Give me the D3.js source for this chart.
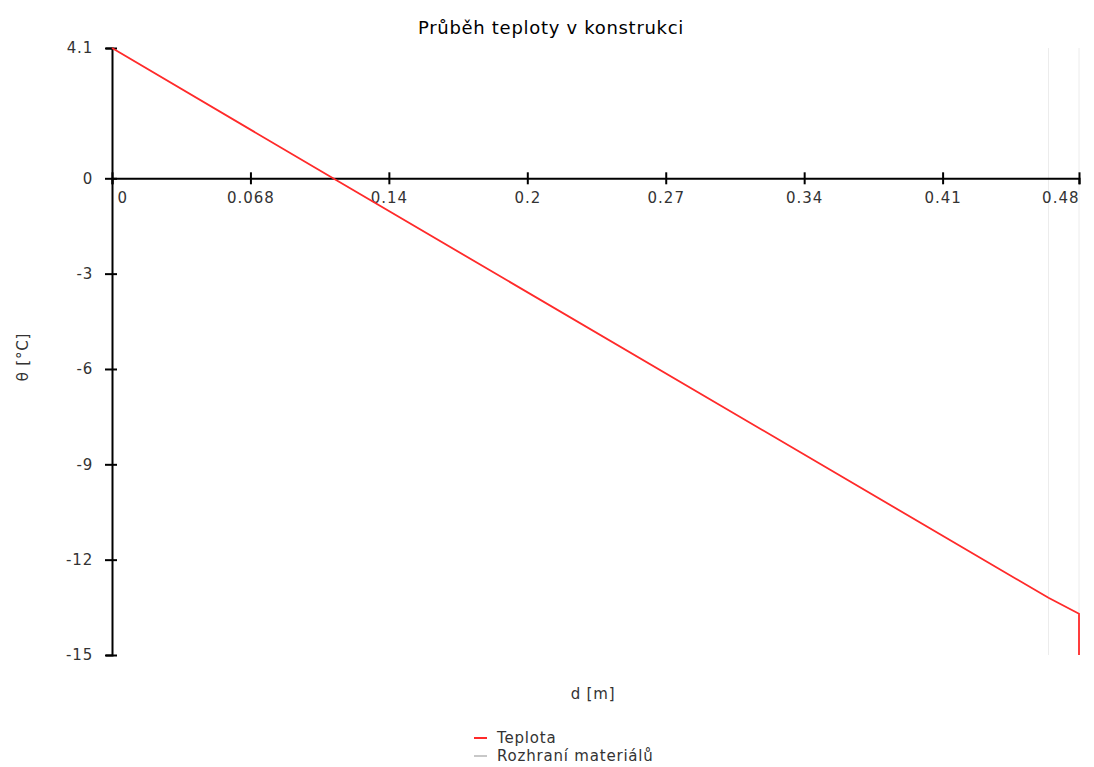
<!DOCTYPE html>
<html>
<head>
<meta charset="utf-8">
<script src="https://cdn.jsdelivr.net/npm/d3@7"></script>
<style>
body { margin: 0; background: #fff; }
text { font-family: "DejaVu Sans", sans-serif; fill: #333; }
</style>
</head>
<body>
<svg id="chart" width="1094" height="767"></svg>
<script>
// data
var depth = [0, 0.1086, 0.46, 0.475, 0.475];
var temp = [4.1, 0, -13.2, -13.7, -15];
var interfaces = [0.46, 0.475];
var xTicks = [0, 0.068, 0.136, 0.204, 0.272, 0.34, 0.408, 0.475];
var xTickLabels = ["0", "0.068", "0.14", "0.2", "0.27", "0.34", "0.41", "0.48"];
var yTicks = [4.1, 0, -3, -6, -9, -12, -15];

var svg = d3.select("#chart");

var x = d3.scaleLinear().domain([0, 0.475]).range([112, 1079]);
var y = d3.scaleLinear().domain([-15, 4.1]).range([655, 48]);

// title
svg.append("text")
    .attr("x", 551).attr("y", 34)
    .attr("text-anchor", "middle")
    .style("font-size", "18px").style("letter-spacing", "0.7px").style("fill", "#000")
    .text("Průběh teploty v konstrukci");

// material interfaces
svg.selectAll(".iface")
    .data(interfaces)
    .enter().append("line")
    .attr("class", "iface")
    .attr("x1", function(d) { return x(d); })
    .attr("x2", function(d) { return x(d); })
    .attr("y1", y(4.1)).attr("y2", y(-15))
    .attr("stroke", "#ececec").attr("stroke-width", 1);

// y axis
var yAxis = d3.axisLeft(y).tickValues(yTicks).tickSize(6).tickFormat(function(d) { return d; });
var gy = svg.append("g").attr("transform", "translate(" + x(0) + ",0)").call(yAxis);
gy.select(".domain").attr("stroke", "#000").attr("stroke-width", 2);
gy.selectAll(".tick line").attr("stroke", "#000").attr("stroke-width", 2).attr("x2", 5).attr("x1", -7);
gy.selectAll(".tick text").attr("x", -19)
    .style("font-size", "15px").style("letter-spacing", "0.8px").style("font-family", "DejaVu Sans");

// x axis at zero
var xAxis = d3.axisBottom(x).tickValues(xTicks).tickSize(6)
    .tickFormat(function(d, i) { return xTickLabels[i]; });
var gx = svg.append("g").attr("transform", "translate(0," + y(0) + ")").call(xAxis);
gx.select(".domain").attr("stroke", "#000").attr("stroke-width", 2);
gx.selectAll(".tick line").attr("stroke", "#000").attr("stroke-width", 2).attr("y1", -6).attr("y2", 6);
gx.selectAll(".tick text").attr("y", 14)
    .style("font-size", "15px").style("letter-spacing", "1px").style("font-family", "DejaVu Sans");
gx.selectAll(".tick text").filter(function(d, i) { return i === 0; })
    .attr("text-anchor", "start").attr("dx", 5);
gx.selectAll(".tick text").filter(function(d, i) { return i === xTicks.length - 1; })
    .attr("text-anchor", "end").attr("dx", 0);

// temperature line
var line = d3.line()
    .x(function(d, i) { return x(depth[i]); })
    .y(function(d) { return y(d); });
svg.append("path")
    .datum(temp)
    .attr("d", line)
    .attr("fill", "none")
    .attr("stroke", "#ff2a2a")
    .attr("stroke-width", 1.8);

// axis labels
svg.append("text")
    .attr("x", 593).attr("y", 699)
    .attr("text-anchor", "middle")
    .style("font-size", "15px").style("letter-spacing", "0.8px")
    .text("d [m]");
svg.append("text")
    .attr("transform", "translate(28,357) rotate(-90)")
    .attr("text-anchor", "middle")
    .style("font-size", "15px").style("letter-spacing", "0.8px")
    .text("θ [°C]");

// legend
var legend = [["Teplota", "#ff2a2a"], ["Rozhraní materiálů", "#c8c8c8"]];
var lg = svg.selectAll(".lg").data(legend).enter().append("g")
    .attr("transform", function(d, i) { return "translate(474," + (738 + i * 18) + ")"; });
lg.append("line").attr("x1", 0).attr("x2", 13).attr("y1", 0).attr("y2", 0)
    .attr("stroke", function(d) { return d[1]; }).attr("stroke-width", 2);
lg.append("text").attr("x", 23).attr("y", 5)
    .style("font-size", "15px").style("letter-spacing", "0.8px")
    .text(function(d) { return d[0]; });
</script>
</body>
</html>
